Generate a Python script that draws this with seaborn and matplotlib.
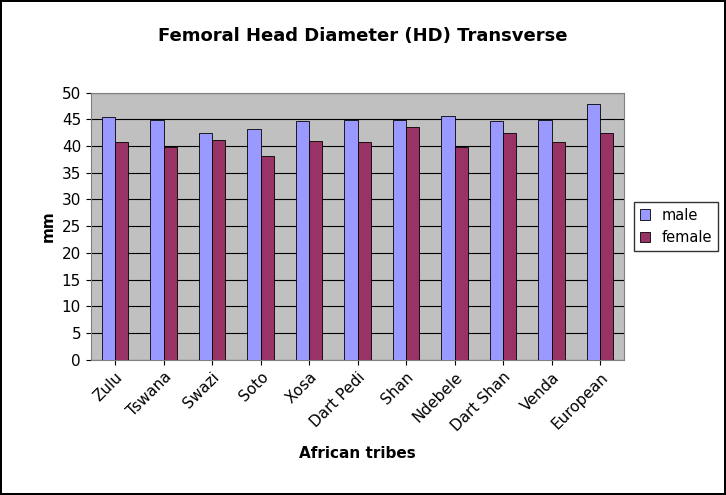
import matplotlib
matplotlib.use("Agg")
import matplotlib.pyplot as plt
import seaborn as sns
import pandas as pd

tribes = ["Zulu","Tswana","Swazi","Soto","Xosa","Dart Pedi","Shan","Ndebele","Dart Shan","Venda","European"]
male = [45.5,44.8,42.4,43.1,44.6,44.8,44.8,45.7,44.6,44.8,47.8]
female = [40.7,39.9,41.2,38.2,40.9,40.7,43.5,39.9,42.4,40.7,42.4]

df = pd.DataFrame({"tribe": tribes*2, "val": male+female,
                   "sex": ["male"]*len(tribes)+["female"]*len(tribes)})

fig = plt.figure(figsize=(7.26,4.95), dpi=100)
fig.patch.set_edgecolor("black"); fig.patch.set_linewidth(1.5)
ax = fig.add_axes([0.125, 0.273, 0.735, 0.54])
ax.set_facecolor("#c0c0c0")
sns.barplot(data=df, x="tribe", y="val", hue="sex", palette=["#9999ff","#993366"],
            saturation=1, edgecolor="black", linewidth=0.6, width=0.55, ax=ax, zorder=3)
ax.set_ylim(0,50); ax.set_yticks(range(0,51,5))
ax.yaxis.grid(True, color="black", linewidth=0.8, zorder=0)
ax.set_axisbelow(True)
ax.set_xlim(-0.5, len(tribes)-0.5)
ax.tick_params(axis="x", labelrotation=45, labelsize=11)
ax.tick_params(axis="y", labelsize=11)
for l in ax.get_xticklabels(): l.set_ha("right"); l.set_rotation_mode("anchor")
ax.set_xlabel("African tribes", fontsize=11, fontweight="bold", labelpad=8)
ax.set_ylabel("mm", fontsize=11, fontweight="bold")
for s in ax.spines.values(): s.set_color("#808080")
fig.suptitle("Femoral Head Diameter (HD) Transverse", fontsize=13, fontweight="bold", y=0.945)
ax.legend(loc="center left", bbox_to_anchor=(1.01,0.5), fontsize=10.5, frameon=True,
          edgecolor="black", fancybox=False, handlelength=0.7, borderaxespad=0.3)
fig.savefig("out.png", dpi=100, edgecolor=fig.get_edgecolor())
